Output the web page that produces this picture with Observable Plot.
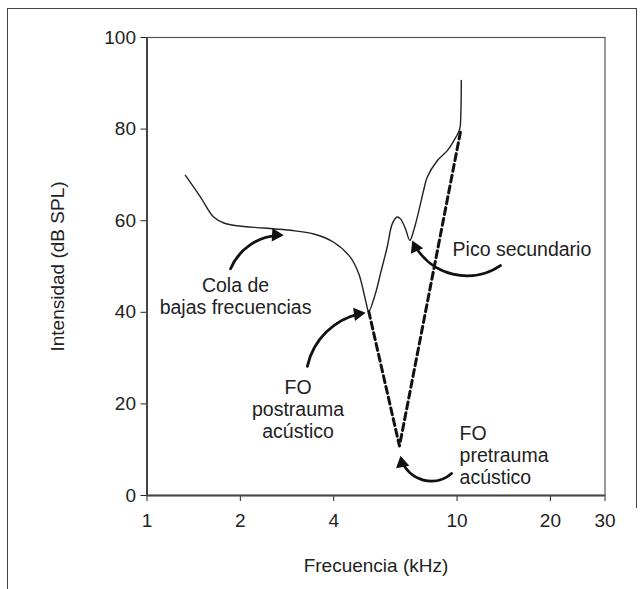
<!DOCTYPE html>
<html>
<head>
<meta charset="utf-8">
<script src="https://cdn.jsdelivr.net/npm/d3@7"></script>
<script src="https://cdn.jsdelivr.net/npm/@observablehq/plot@0.6"></script>
<style>
  body { margin: 0; background: #fff; }
  #wrap { position: relative; width: 644px; height: 589px; overflow: hidden; }
  #frame { position: absolute; left: 7px; top: 8px; width: 629px; height: 620px;
           border-left: 1.5px solid #444; border-top: 1.5px solid #444; }
  #rline { position: absolute; left: 636px; top: 8px; width: 0; height: 500px; border-left: 1.5px solid #444; }
  #chart { position: absolute; left: 0; top: 0; }
</style>
</head>
<body>
<div id="wrap"><div id="frame"></div><div id="rline"></div><div id="chart"></div></div>
<script>
// Post-trauma tuning curve (solid)
const postFreq  = [1.33, 1.49, 1.64, 1.77, 1.95, 2.38, 2.90, 3.45, 4.00, 4.53, 4.82, 5.07, 5.19, 5.45, 5.66, 5.95, 6.18, 6.41, 6.57, 6.82, 7.04, 7.25, 7.53, 7.80, 8.01, 8.63, 9.30, 9.77, 10.20, 10.28, 10.32];
const postLevel = [69.9, 65.1, 60.8, 59.5, 58.9, 58.4, 57.9, 57.1, 55.3, 52.0, 48.4, 42.6, 40.2, 44.0, 48.4, 54.2, 59.3, 60.8, 60.4, 58.2, 55.7, 57.9, 62.2, 66.6, 69.5, 73.1, 75.3, 77.5, 80.0, 83.0, 90.6];
// Pre-trauma tuning tip (dashed)
const preFreq  = [5.19, 6.52, 10.25];
const preLevel = [40.2, 10.8, 79.3];
// Axis ticks
const xTicks = [1, 2, 4, 10, 20, 30];
const yTicks = [0, 20, 40, 60, 80, 100];
// Annotations
const noteText  = ["Cola de\nbajas frecuencias", "FO\npostrauma\nacústico", "FO\npretrauma\nacústico", "Pico secundario"];
const noteX     = [1.93, 3.07, 10.19, 9.67];
const noteY     = [43.6, 18.8, 8.8, 53.8];
const noteAlign = ["middle", "middle", "start", "start"];
// Arrows (tail -> head)
const arrX1 = [1.86, 3.29, 13.8, 9.6];
const arrY1 = [49.5, 28.2, 50.2, 4.8];
const arrX2 = [2.76, 5.07, 7.17, 6.57];
const arrY2 = [56.8, 39.9, 55.7, 8.7];
const arrBend = [35, 35, 50, 60];

const W = 644, H = 589, ML = 146.5, MR = 39.5, MT = 37, MB = 94;
const sx = Plot.scale({x: {type: "log", domain: [1, 30], range: [ML, W - MR]}});
const sy = Plot.scale({y: {domain: [0, 100], range: [H - MB, MT]}});

const post = postFreq.map((f, i) => ({f, v: postLevel[i]}));
const pre = preFreq.map((f, i) => ({f, v: preLevel[i]}));
const notes = noteText.map((t, i) => ({t, x: noteX[i], y: noteY[i], a: noteAlign[i]}));
const arrows = arrX1.map((x1, i) => ({x1, y1: arrY1[i], x2: arrX2[i], y2: arrY2[i], b: arrBend[i]}));

// filled arrow heads: oriented along the arc's end tangent (chord angle + bend)
const headR = 5;
const heads = arrows.map(a => {
  const X1 = sx.apply(a.x1), Y1 = sy.apply(a.y1), X2 = sx.apply(a.x2), Y2 = sy.apply(a.y2);
  const h = Math.atan2(Y2 - Y1, X2 - X1) + a.b * Math.PI / 180;
  const back = 1.555 * headR;
  const cx = X2 - back * Math.cos(h), cy = Y2 - back * Math.sin(h);
  return {x: sx.invert(cx), y: sy.invert(cy), r: h * 180 / Math.PI + 90};
});

const font = "'Liberation Sans', Arial, sans-serif";
const chart = Plot.plot({
  width: W, height: H,
  marginLeft: ML, marginRight: MR, marginTop: MT, marginBottom: MB,
  style: {fontFamily: font, fontSize: "19px", color: "#222", background: "transparent", overflow: "visible"},
  x: {type: "log", domain: [1, 30], ticks: xTicks, tickFormat: d => String(d),
      label: "Frecuencia (kHz)", labelAnchor: "center", labelArrow: false, labelOffset: 76,
      tickSize: 6, tickPadding: 12},
  y: {domain: [0, 100], ticks: yTicks, tickFormat: d => String(d),
      label: "Intensidad (dB SPL)", labelAnchor: "center", labelArrow: false, labelOffset: 97,
      tickSize: 6, tickPadding: 5},
  marks: [
    Plot.frame({stroke: "#555", strokeWidth: 1.2}),
    Plot.ruleX([1], {stroke: "#444", strokeWidth: 2}),
    Plot.ruleY([0], {stroke: "#444", strokeWidth: 2}),
    Plot.line(post, {x: "f", y: "v", stroke: "#222", strokeWidth: 1.4, curve: "catmull-rom"}),
    Plot.line(pre, {x: "f", y: "v", stroke: "#111", strokeWidth: 3, strokeDasharray: "7,4"}),
    ...arrows.map(a => Plot.arrow([a], {x1: "x1", y1: "y1", x2: "x2", y2: "y2", bend: a.b,
      stroke: "#111", strokeWidth: 2.8, headLength: 0, insetEnd: 5})),
    Plot.dot(heads, {x: "x", y: "y", rotate: "r", symbol: "triangle", r: headR, fill: "#111", stroke: "none"}),
    Plot.text(notes.filter(d => d.a === "middle"), {x: "x", y: "y", text: "t", textAnchor: "middle", lineHeight: 1.13, fill: "#222", fontSize: 19.5}),
    Plot.text(notes.filter(d => d.a === "start"), {x: "x", y: "y", text: "t", textAnchor: "start", lineHeight: 1.13, fill: "#222", fontSize: 19.5})
  ]
});
document.getElementById("chart").appendChild(chart);
</script>
</body>
</html>
